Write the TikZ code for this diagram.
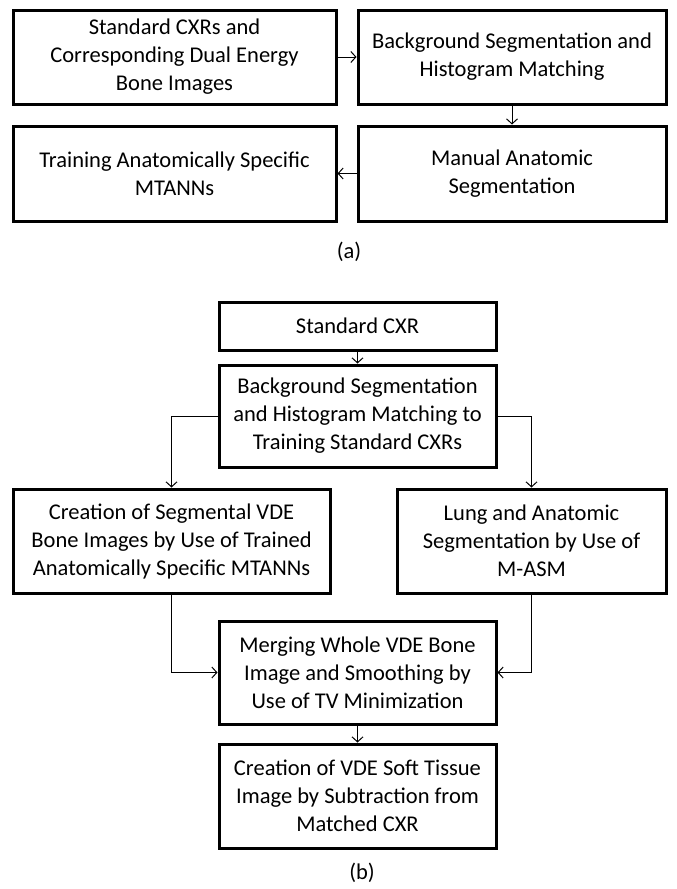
\documentclass[tikz,border=0pt]{standalone}
\usepackage{fontspec}
\setmainfont{Carlito}
\usetikzlibrary{arrows.meta}
\begin{document}
\begin{tikzpicture}[x=1pt,y=-1pt,
  stagebox/.style={draw,line width=3pt,align=center,inner sep=0pt,
    font=\fontsize{22.5}{28}\selectfont},
  flow/.style={line width=1pt,-{Straight Barb[length=5pt,width=11pt]}},
  caption/.style={font=\fontsize{22.5}{28}\selectfont}]
\useasboundingbox (0,0) rectangle (677,889);
% (a) training
\node[stagebox,minimum width=323,minimum height=94] (train1) at (174.5,57)
  {Standard CXRs and\\Corresponding Dual Energy\\Bone Images};
\node[stagebox,minimum width=308,minimum height=94] (train2) at (512,57)
  {Background Segmentation and\\Histogram Matching};
\node[stagebox,minimum width=308,minimum height=95] (train3) at (512,173.5)
  {Manual Anatomic\\Segmentation};
\node[stagebox,minimum width=323,minimum height=95] (train4) at (174.5,173.5)
  {Training Anatomically Specific\\MTANNs};
\node[caption] (capa) at (349,252) {(a)};
\draw[flow] (train1) -- (train2);
\draw[flow] (train2) -- (train3);
\draw[flow] (train3) -- (train4);
% (b) testing
\node[stagebox,minimum width=277,minimum height=48] (test1) at (357.5,326)
  {Standard CXR};
\node[stagebox,minimum width=277,minimum height=102] (test2) at (357.5,416)
  {Background Segmentation\\and Histogram Matching to\\Training Standard CXRs};
\node[stagebox,minimum width=317,minimum height=104] (test3) at (171.5,541)
  {Creation of Segmental VDE\\Bone Images by Use of Trained\\Anatomically Specific MTANNs};
\node[stagebox,minimum width=269,minimum height=104] (test4) at (531.5,541)
  {Lung and Anatomic\\Segmentation by Use of\\M-ASM};
\node[stagebox,minimum width=277,minimum height=103] (test5) at (357.5,672.5)
  {Merging Whole VDE Bone\\Image and Smoothing by\\Use of TV Minimization};
\node[stagebox,minimum width=277,minimum height=104] (test6) at (357.5,796)
  {Creation of VDE Soft Tissue\\Image by Subtraction from\\Matched CXR};
\node[caption] (capb) at (362,873) {(b)};
\draw[flow] (test1) -- (test2);
\draw[flow] (test2.west) -| (test3.north);
\draw[flow] (test2.east) -| (test4.north);
\draw[flow] (test3.south) |- (test5.west);
\draw[flow] (test4.south) |- (test5.east);
\draw[flow] (test5) -- (test6);
\end{tikzpicture}
\end{document}
